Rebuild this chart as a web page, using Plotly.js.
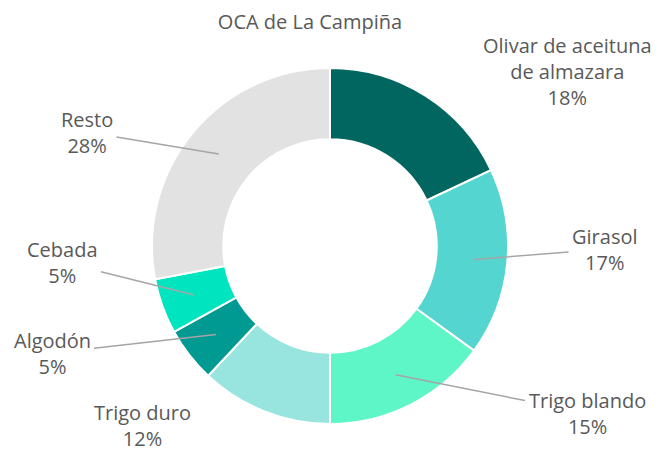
<!DOCTYPE html>
<html>
<head>
<meta charset="utf-8">
<script src="https://cdn.plot.ly/plotly-3.0.1.min.js"></script>
<style>html,body{margin:0;padding:0;background:#fff;}#chart{width:661px;height:454px;}</style>
</head>
<body>
<div id="chart"></div>
<script>
// Data
var categories = ['Olivar de aceituna de almazara', 'Girasol', 'Trigo blando', 'Trigo duro', 'Algodón', 'Cebada', 'Resto'];
var displayLabels = ['Olivar de aceituna<br>de almazara', 'Girasol', 'Trigo blando', 'Trigo duro', 'Algodón', 'Cebada', 'Resto'];
var shares = [18, 17, 15, 12, 5, 5, 28];
var colors = ['#00665F', '#55D5CF', '#5EF6C6', '#98E5DF', '#009A93', '#00E4C0', '#E2E2E2'];

// Layout geometry (pixels)
var W = 661, H = 454;
var cx = 330, cy = 246, R = 178, HOLE = 0.6;
// label centers (pixels) and whether a leader line is drawn
var labelPos = [[567, 71], [605, 249], [587, 413], [142, 425], [52, 353], [62, 262], [87, 132]];
var leader = [false, true, true, false, true, true, true];

var data = [{
  type: 'pie',
  labels: categories,
  values: shares,
  sort: false,
  direction: 'clockwise',
  rotation: 0,
  hole: HOLE,
  marker: {colors: colors, line: {color: '#FFFFFF', width: 2}},
  textinfo: 'none',
  hoverinfo: 'none',
  showlegend: false,
  domain: {x: [(cx - R) / W, (cx + R) / W], y: [(H - cy - R) / H, (H - cy + R) / H]}
}];

var total = shares.reduce(function (a, b) { return a + b; }, 0);
var annotations = [];
var cum = 0;
var rMid = R * (1 + HOLE) / 2 + 2;
for (var i = 0; i < shares.length; i++) {
  var mid = (cum + shares[i] / 2) / total * 2 * Math.PI;
  cum += shares[i];
  var hx = cx + rMid * Math.sin(mid);
  var hy = cy - rMid * Math.cos(mid);
  var txt = displayLabels[i] + '<br>' + shares[i] + '%';
  var font = {family: 'Open Sans, sans-serif', size: 20, color: '#595959'};
  if (leader[i]) {
    annotations.push({
      xref: 'paper', yref: 'paper', x: hx / W, y: 1 - hy / H,
      ax: labelPos[i][0] - hx, ay: labelPos[i][1] - hy,
      text: txt, showarrow: true, arrowhead: 0, arrowwidth: 1.5, arrowcolor: '#A5A5A5',
      standoff: 0, startstandoff: 2, font: font, align: 'center'
    });
  } else {
    annotations.push({
      xref: 'paper', yref: 'paper', x: labelPos[i][0] / W, y: 1 - labelPos[i][1] / H,
      xanchor: 'center', yanchor: 'middle', text: txt, showarrow: false, font: font, align: 'center'
    });
  }
}

var layout = {
  width: W, height: H,
  margin: {l: 0, r: 0, t: 0, b: 0},
  paper_bgcolor: '#FFFFFF',
  title: {text: 'OCA de La Campiña', x: 310 / W, xanchor: 'center', y: 1 - 22 / H, yanchor: 'middle',
          font: {family: 'Open Sans, sans-serif', size: 20, color: '#595959'}},
  annotations: annotations,
  showlegend: false
};

Plotly.newPlot('chart', data, layout, {displayModeBar: false, staticPlot: true});
</script>
</body>
</html>
